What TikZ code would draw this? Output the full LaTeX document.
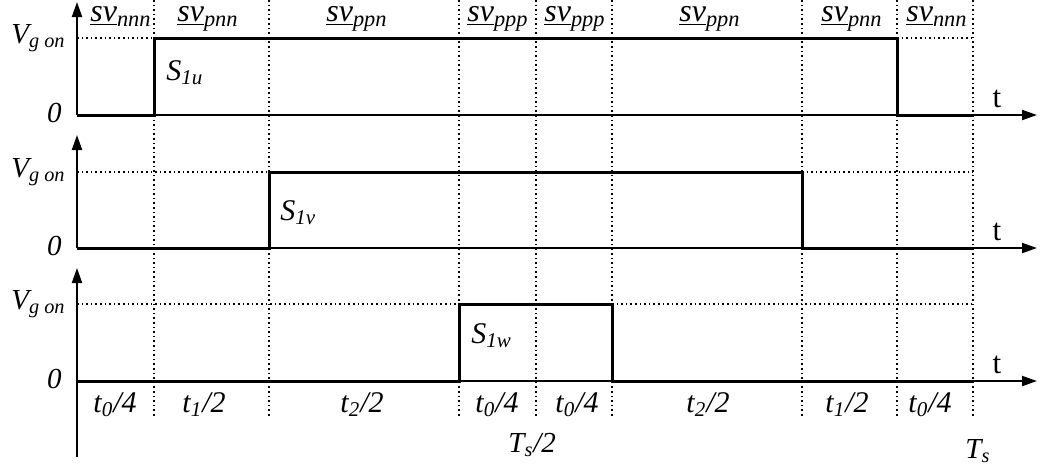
\documentclass[tikz,border=0pt]{standalone}
\usepackage{fontspec}
\setmainfont{Liberation Serif}
\usetikzlibrary{arrows.meta}
\tikzset{
    % Axis and signal styles
    axisline/.style={
        line width=1pt,
        -{Triangle[length=7.5pt,width=5pt]}
    },
    signal/.style={
        line width=1.5pt,
        line join=miter
    },
    gridline/.style={
        line width=0.8pt,
        dash pattern=on 0.8pt off 1.5pt
    },
    % Label styles
    biglabel/.style={
        font=\fontsize{14.5}{16}\selectfont\itshape,
        inner sep=0pt
    },
    smalllabel/.style={
        font=\fontsize{15}{17}\selectfont\itshape,
        inner sep=0pt
    },
    svlabel/.style={
        font=\fontsize{16}{18}\selectfont\itshape,
        inner sep=0pt
    },
    timelabel/.style={
        font=\fontsize{15.5}{17}\selectfont,
        inner sep=0pt
    }
}
\newcommand{\svlab}[1]{\underline{sv}\textsubscript{#1}}

\begin{document}
\begin{tikzpicture}[x=0.5pt, y=-0.5pt]
    \useasboundingbox (0,0) rectangle (1043,468);

    % Vertical time marks
    \foreach \xm/\nm in {154/a,269/b,459/c,536/d,612/e,802/f,897/g,973/h} {
        \coordinate (top\nm) at (\xm,0);
        \coordinate (bot\nm) at (\xm,418);
        \draw[gridline] (top\nm) -- (bot\nm);
    }

    % Axes (origins, axis ends)
    \foreach \lo/\hi/\ytop/\ybot/\nm in {115/38/2/115/u, 248/172/135/248/v, 381/304/268/457/w} {
        \coordinate (org\nm) at (77,\lo);
        \coordinate (yend\nm) at (77,\ytop);
        \coordinate (ybeg\nm) at (77,\ybot);
        \coordinate (xend\nm) at (1037,\lo);
        \coordinate (on\nm) at (77,\hi);
        \draw[axisline] (ybeg\nm) -- (yend\nm);
        \draw[axisline] (org\nm) -- (xend\nm);
        \node[biglabel, anchor=base east] (von\nm) at (66,\hi+5) {V\textsubscript{g on}};
        \node[biglabel, anchor=base east] (zero\nm) at (62,\lo+7) {0};
        \node[timelabel, anchor=base] (t\nm) at (997,\lo-8) {t};
    }

    % Gate signals
    \draw[signal] (orgu) -- (154,115) -- (154,38) -- (897,38) -- (897,115) -- (973,115);
    \draw[signal] (orgv) -- (269,248) -- (269,172) -- (802,172) -- (802,248) -- (973,248);
    \draw[signal] (orgw) -- (459,381) -- (459,304) -- (612,304) -- (612,381) -- (973,381);

    % Dotted on-levels
    \draw[gridline] (onu) -- (154,38);
    \draw[gridline] (897,38) -- (973,38);
    \draw[gridline] (onv) -- (269,172);
    \draw[gridline] (802,172) -- (973,172);
    \draw[gridline] (onw) -- (459,304);
    \draw[gridline] (612,304) -- (973,304);

    % Switch names
    \node[smalllabel, anchor=base west] (s1u) at (166,80) {S\textsubscript{1u}};
    \node[smalllabel, anchor=base west] (s1v) at (280,220) {S\textsubscript{1v}};
    \node[smalllabel, anchor=base west] (s1w) at (471,343) {S\textsubscript{1w}};

    % Switching vectors
    \foreach \xc/\sv [count=\i] in {121/nnn, 208/pnn, 357/ppn, 498/ppp,
        575/ppp, 710/ppn, 852/pnn, 937/nnn} {
        \node[svlabel, anchor=base] (sv\i) at (\xc,21) {\svlab{\sv}};
    }

    % Interval lengths
    \foreach \xc/\dt [count=\i] in {115/{t\textsubscript{0}/4}, 204/{t\textsubscript{1}/2},
        362/{t\textsubscript{2}/2}, 497/{t\textsubscript{0}/4}, 577/{t\textsubscript{0}/4},
        708/{t\textsubscript{2}/2}, 847/{t\textsubscript{1}/2}, 930/{t\textsubscript{0}/4}} {
        \node[smalllabel, anchor=base] (dt\i) at (\xc,412) {\dt};
    }

    % Period marks
    \node[biglabel, anchor=base west] (thalf) at (508,452) {T\textsubscript{s}/2};
    \node[biglabel, anchor=base west] (tfull) at (965,458) {T\textsubscript{s}};
\end{tikzpicture}
\end{document}
